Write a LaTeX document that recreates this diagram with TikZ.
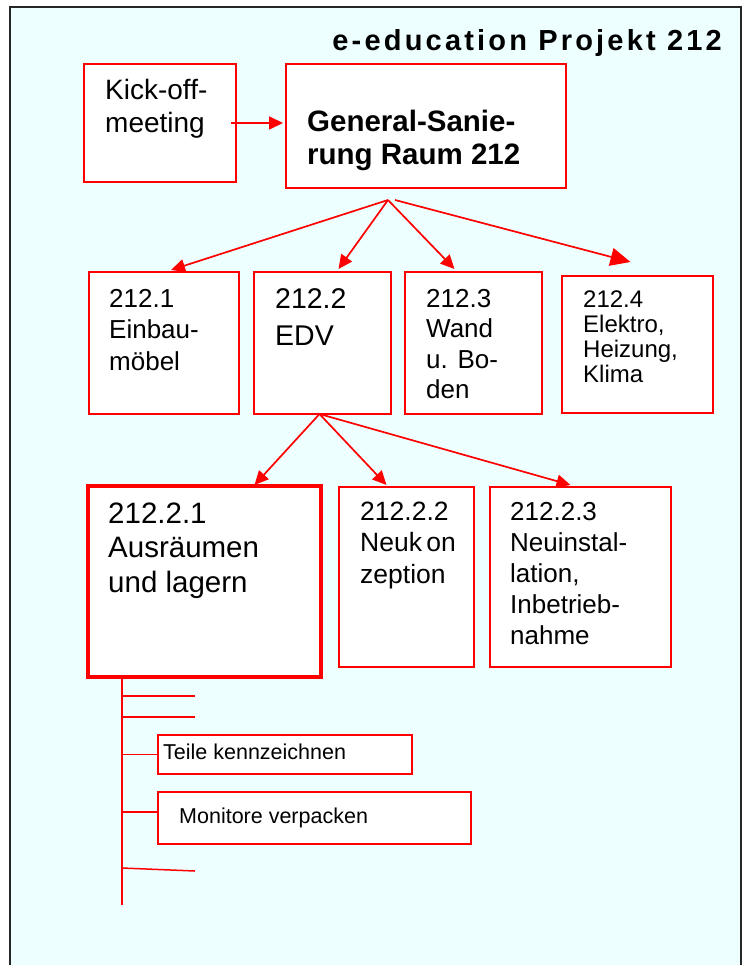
\documentclass[tikz,border=0pt]{standalone}
\usepackage{fontspec}
\setmainfont{Liberation Sans}
\newfontfamily\titlefont[LetterSpace=11]{Liberation Sans}
\usetikzlibrary{arrows.meta,calc}

\definecolor{paper}{RGB}{238,255,255}
\definecolor{wbsred}{RGB}{255,0,0}

% lines of a box text, baseline on the first line
\newcommand{\boxlines}[1]{\begin{tabular}[t]{@{}l@{}}#1\end{tabular}}

\tikzset{
  wbs box/.style   = {draw=wbsred, fill=white, line width=1.5pt, inner sep=0pt,
                      outer sep=0pt, anchor=north west},
  wbs text/.style  = {anchor=base west, inner sep=0pt},
  wbs arrow/.style = {draw=wbsred, line width=1.7pt, -{Triangle[length=14pt,width=13pt]}},
  wbs line/.style  = {draw=wbsred, line width=1.5pt}
}

\begin{document}
\begin{tikzpicture}[x=1pt, y=-1pt]
\useasboundingbox (0,0) rectangle (748,965);

% Background sheet, its lower edge lies below the page
\fill[paper] (10,7) rectangle (741,975);
\draw[black!85, line width=2pt] (10,975) -- (10,7) -- (741,7) -- (741,975);

\node[anchor=base east, inner sep=0pt, font=\titlefont\bfseries\fontsize{29}{34}\selectfont]
  (title) at (722,51) {e-education Projekt 212};

% Top level
\node[wbs box, minimum width=152, minimum height=118] (kickoff)   at (84,64)  {};
\node[wbs box, minimum width=280, minimum height=124] (sanierung) at (286,64) {};
\node[wbs text, font=\fontsize{28}{33}\selectfont] (kickoff text) at (105,100)
  {\boxlines{Kick-off-\\meeting}};
\node[wbs text, font=\bfseries\fontsize{29.5}{33}\selectfont] (sanierung text) at (307,132)
  {\boxlines{General-Sanie-\\rung Raum 212}};

% Second level
\node[wbs box, minimum width=150, minimum height=142] (p1) at (89,272)  {};
\node[wbs box, minimum width=137, minimum height=142] (p2) at (254,272) {};
\node[wbs box, minimum width=137, minimum height=142] (p3) at (405,272) {};
\node[wbs box, minimum width=151, minimum height=137] (p4) at (562,276) {};
\node[wbs text, font=\fontsize{26}{31.5}\selectfont] (p1 text) at (109,307)
  {\boxlines{212.1\\Einbau-\\möbel}};
\node[wbs text, font=\fontsize{28.5}{37}\selectfont] (p2 text) at (275,308)
  {\boxlines{212.2\\EDV}};
\node[wbs text, font=\fontsize{26}{30.5}\selectfont] (p3 text) at (426,307)
  {\boxlines{212.3\\Wand\\u. Bo-\\den}};
\node[wbs text, font=\fontsize{24}{25}\selectfont]   (p4 text) at (583,307)
  {\boxlines{212.4\\Elektro,\\Heizung,\\Klima}};

% Third level
\node[wbs box, line width=3.5pt, minimum width=233, minimum height=191] (p21) at (88,486) {};
\node[wbs box, minimum width=135, minimum height=180] (p22) at (339,487) {};
\node[wbs box, minimum width=181, minimum height=180] (p23) at (490,487) {};
\node[wbs text, font=\fontsize{29.5}{34.5}\selectfont] (p21 text) at (108,523)
  {\boxlines{212.2.1\\Ausräumen\\und lagern}};
\node[wbs text, font=\fontsize{26.5}{31.5}\selectfont] (p22 text) at (360,520)
  {\boxlines{212.2.2\\Neuk\,on\\zeption}};
\node[wbs text, font=\fontsize{26}{31}\selectfont] (p23 text) at (510,520)
  {\boxlines{212.2.3\\Neuinstal-\\lation,\\Inbetrieb-\\nahme}};

% Work packages
\node[wbs box, minimum width=254, minimum height=39] (teile)    at (158,735) {};
\node[wbs box, minimum width=313, minimum height=52] (monitore) at (158,792) {};
\node[wbs text, font=\fontsize{21.5}{25}\selectfont] (teile text)    at (163,759) {Teile kennzeichnen};
\node[wbs text, font=\fontsize{21.5}{26}\selectfont] (monitore text) at (179,823) {Monitore verpacken};

% Reference points for the arrows
\coordinate (fan top)   at ([shift={(-38,12)}]sanierung.south);
\coordinate (fan top2)  at ([shift={(-31,12)}]sanierung.south);
\coordinate (fan edv)   at ([xshift=-3]p2.south);
\coordinate (stem)      at ([xshift=34]p21.south west);
\coordinate (stem end)  at (122,905);

\draw[wbs arrow] ([xshift=-5]kickoff.east) -- ([xshift=-3]sanierung.west |- kickoff.east);

\draw[wbs arrow] (fan top) -- ([shift={(7,-2)}]p1.north);
\draw[wbs arrow] (fan top) -- ([shift={(16,-3)}]p2.north);
\draw[wbs arrow] (fan top) -- ([shift={(-19,-3)}]p3.north);
\draw[wbs arrow, -{Triangle[length=20pt,width=18pt]}] (fan top2) -- ([shift={(-7,-14)}]p4.north);

\draw[wbs arrow] (fan edv) -- ([shift={(50,-1)}]p21.north);
\draw[wbs arrow] (fan edv) -- ([shift={(-20,-2)}]p22.north);
\draw[wbs arrow] (fan edv) -- ([shift={(-10,-2)}]p23.north);

% Tree of the work packages
\draw[wbs line] (stem) -- (stem end);
\draw[wbs line] (stem |- 0,696) -- (195,696);
\draw[wbs line] (stem |- 0,717) -- (195,717);
\draw[wbs line] (stem |- teile.west) -- (teile.west);
\draw[wbs line] (stem |- 0,812) -- ([yshift=6]monitore.west);
\draw[wbs line] (stem |- 0,868) -- (195,871);

\end{tikzpicture}
\end{document}
